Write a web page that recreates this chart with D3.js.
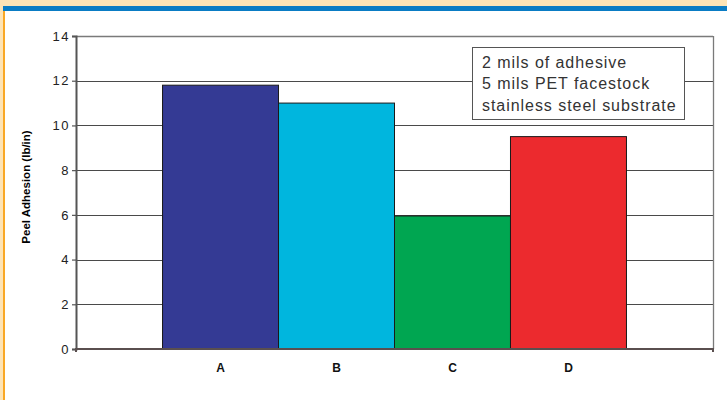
<!DOCTYPE html>
<html>
<head>
<meta charset="utf-8">
<script src="https://cdn.jsdelivr.net/npm/d3@7"></script>
<style>
  html, body { margin: 0; padding: 0; background: #ffffff; }
  svg { display: block; font-family: "Liberation Sans", Arial, Helvetica, sans-serif; }
</style>
</head>
<body>
<svg id="chart" width="727" height="400"></svg>
<script>
// Samples and their measured values
const categories = ["A", "B", "C", "D"];
const values = [11.8, 11.0, 5.95, 9.5];
const barColors = ["#343a94", "#00b6de", "#00a651", "#ec2a2e"];
const yTicks = [0, 2, 4, 6, 8, 10, 12, 14];
const noteLines = ["2 mils of adhesive", "5 mils PET facestock", "stainless steel substrate"];
const yTitle = "Peel Adhesion (lb/in)";

const svg = d3.select("#chart");
const W = 727, H = 400;

// Page frame: cream edges, blue rule on top, orange rule on the left
svg.append("rect").attr("x", 0).attr("y", 0).attr("width", W).attr("height", H).attr("fill", "#ffffff");
svg.append("rect").attr("x", 0).attr("y", 0).attr("width", W).attr("height", 6).attr("fill", "#fde4b6");
svg.append("rect").attr("x", 0).attr("y", 0).attr("width", 3).attr("height", H).attr("fill", "#fde4b6");
svg.append("rect").attr("x", 3).attr("y", 6).attr("width", W - 3).attr("height", 5).attr("fill", "#0a7cc4");
svg.append("rect").attr("x", 3).attr("y", 11).attr("width", 2).attr("height", H - 11).attr("fill", "#f9a825");

const plot = { left: 76, right: 713, top: 36, bottom: 349 };

const y = d3.scaleLinear().domain([0, 14]).range([plot.bottom, plot.top]);
const x = d3.scaleBand().domain(categories)
  .range([plot.left, plot.right])
  .paddingInner(0)
  .paddingOuter(0.746);

const g = svg.append("g");

// Horizontal gridlines
g.selectAll("line.grid")
  .data(yTicks.filter(t => t > 0 && t < 14))
  .join("line")
  .attr("class", "grid")
  .attr("x1", plot.left).attr("x2", plot.right)
  .attr("y1", d => Math.round(y(d)) + 0.5).attr("y2", d => Math.round(y(d)) + 0.5)
  .attr("stroke", "#4a4a4a").attr("stroke-width", 1.2);

// Plot frame (top and right)
g.append("line")
  .attr("x1", plot.left).attr("x2", plot.right)
  .attr("y1", plot.top + 0.5).attr("y2", plot.top + 0.5)
  .attr("stroke", "#7a7a7a").attr("stroke-width", 1.3);
g.append("line")
  .attr("x1", plot.right + 0.5).attr("x2", plot.right + 0.5)
  .attr("y1", plot.top).attr("y2", plot.bottom)
  .attr("stroke", "#7a7a7a").attr("stroke-width", 1.3);

// Bars
g.selectAll("rect.bar")
  .data(categories.map((c, i) => ({ c, v: values[i], color: barColors[i] })))
  .join("rect")
  .attr("class", "bar")
  .attr("x", d => x(d.c))
  .attr("width", x.bandwidth())
  .attr("y", d => y(d.v))
  .attr("height", d => y(0) - y(d.v))
  .attr("fill", d => d.color)
  .attr("stroke", "#1a1a1a")
  .attr("stroke-width", 1);

// Y axis
const yAxis = d3.axisLeft(y).tickValues(yTicks).tickSize(4).tickPadding(2).tickFormat(d3.format("d"));
const yg = svg.append("g").attr("transform", `translate(${plot.left},0)`).call(yAxis);
yg.select(".domain").attr("stroke", "#555").attr("stroke-width", 2);
yg.selectAll(".tick line").attr("stroke", "#555").attr("stroke-width", 1.2);
yg.selectAll(".tick text").attr("font-size", 13).attr("fill", "#222")
  .attr("letter-spacing", 1.5)
  .attr("font-family", "'Liberation Sans', Arial, sans-serif");

// X axis
const xAxis = d3.axisBottom(x).tickSize(0).tickPadding(14);
const xg = svg.append("g").attr("transform", `translate(0,${plot.bottom})`).call(xAxis);
xg.select(".domain").attr("stroke", "#5a4f4f").attr("stroke-width", 2)
  .attr("d", `M${plot.left},3V0H${plot.right}V3`);
xg.selectAll(".tick text").attr("font-size", 12).attr("font-weight", "bold").attr("fill", "#111")
  .attr("font-family", "'Liberation Sans', Arial, sans-serif");

// Y axis title
svg.append("text")
  .attr("transform", "translate(30,187) rotate(-90)")
  .attr("text-anchor", "middle")
  .attr("font-size", 11.5)
  .attr("font-weight", "bold")
  .attr("fill", "#000")
  .text(yTitle);

// Note box
const note = svg.append("g");
note.append("rect")
  .attr("x", 472.5).attr("y", 47.5).attr("width", 212).attr("height", 72)
  .attr("fill", "#ffffff").attr("stroke", "#555").attr("stroke-width", 1);
note.selectAll("text")
  .data(noteLines)
  .join("text")
  .attr("x", 482)
  .attr("y", (d, i) => 67.5 + i * 21.5)
  .attr("font-size", 16)
  .attr("letter-spacing", 0.95)
  .attr("fill", "#333")
  .text(d => d);
</script>
</body>
</html>
